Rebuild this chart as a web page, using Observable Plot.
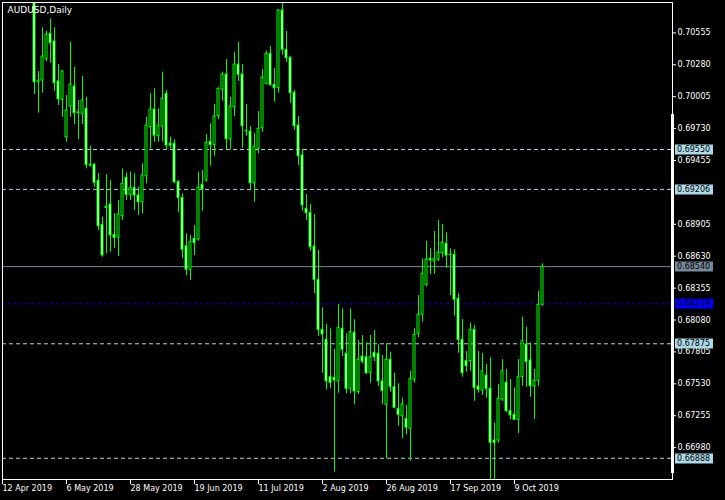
<!DOCTYPE html>
<html><head><meta charset="utf-8">
<script src="https://cdn.jsdelivr.net/npm/d3@7"></script>
<script src="https://cdn.jsdelivr.net/npm/@observablehq/plot@0.6"></script>
<style>html,body{margin:0;padding:0;background:#000;} #chart svg{display:block}</style>
</head><body><div id="chart"></div>
<script>
const symbol = "AUDUSD,Daily";
// bar index of the first candle (index 0 = 12 Apr 2019)
const firstBar = 8;
const opens = [0.71280,0.70130,0.70144,0.70328,0.70547,0.70481,0.70136,0.69978,0.69656,0.69920,
0.70093,0.69864,0.69857,0.69900,0.69418,0.69418,0.69280,0.68901,0.69045,0.69076,
0.68814,0.68789,0.68975,0.69306,0.69159,0.69219,0.69153,0.69095,0.69319,0.69742,
0.69894,0.69664,0.69748,0.70030,0.69599,0.69599,0.69268,0.69133,0.68716,0.68513,
0.68780,0.68774,0.69245,0.69282,0.69616,0.69587,0.69837,0.70067,0.70196,0.69638,
0.69914,0.70282,0.70196,0.69707,0.69705,0.69259,0.69556,0.69733,0.70116,0.70375,
0.70107,0.70078,0.70748,0.70409,0.70340,0.70038,0.69756,0.69498,0.69038,0.69004,
0.68713,0.68426,0.67995,0.67909,0.67587,0.67582,0.67550,0.68004,0.67789,0.67487,
0.67970,0.67458,0.67765,0.67759,0.67625,0.67797,0.67789,0.67550,0.67349,0.67737,
0.67501,0.67314,0.67251,0.67228,0.67142,0.67564,0.67961,0.68125,0.68383,0.68607,
0.68587,0.68601,0.68656,0.68737,0.68642,0.68642,0.68263,0.67909,0.67725,0.67725,
0.67995,0.67507,0.67472,0.67601,0.67487,0.67041,0.67041,0.67395,0.67539,0.67294,
0.67263,0.67220,0.67587,0.67869,0.67731,0.67509,0.67556,0.68211];
const highs = [0.71350,0.70222,0.70599,0.70567,0.70676,0.70599,0.70282,0.70231,0.70015,0.70472,
0.70259,0.69972,0.70179,0.70000,0.69578,0.69429,0.69343,0.68966,0.69334,0.69282,
0.68998,0.69110,0.69383,0.69345,0.69354,0.69340,0.69225,0.69426,0.69828,0.70030,
0.70073,0.69900,0.70216,0.70058,0.69656,0.69633,0.69282,0.69168,0.68823,0.68808,
0.68894,0.69354,0.69369,0.69679,0.69771,0.69938,0.70081,0.70216,0.70325,0.69998,
0.70388,0.70475,0.70282,0.69938,0.69748,0.69690,0.69877,0.70239,0.70397,0.70437,
0.70248,0.70756,0.70811,0.70567,0.70351,0.70058,0.69834,0.69550,0.69162,0.69076,
0.68989,0.68679,0.68185,0.68041,0.68004,0.67826,0.68214,0.68176,0.67961,0.68176,
0.68082,0.67903,0.67946,0.67883,0.67946,0.67989,0.67866,0.67774,0.67875,0.67802,
0.67621,0.67530,0.67406,0.67343,0.67639,0.68004,0.68291,0.68607,0.68757,0.68694,
0.68843,0.68938,0.68903,0.68832,0.68694,0.68685,0.68306,0.68084,0.67808,0.68056,
0.68032,0.67808,0.67789,0.67696,0.67754,0.67190,0.67524,0.67739,0.67653,0.67567,
0.67495,0.67739,0.68104,0.68018,0.67883,0.67653,0.68326,0.68564];
const lows = [0.70024,0.69863,0.70035,0.70308,0.70294,0.70052,0.69929,0.69828,0.69613,0.69828,
0.69765,0.69636,0.69765,0.69383,0.69397,0.69225,0.68851,0.68621,0.68651,0.68664,
0.68696,0.68627,0.68938,0.69110,0.69110,0.69024,0.68981,0.68995,0.69254,0.69556,
0.69613,0.69613,0.69613,0.69541,0.69556,0.69254,0.69004,0.68607,0.68463,0.68420,
0.68636,0.68759,0.69018,0.69268,0.69406,0.69492,0.69808,0.69966,0.69547,0.69547,
0.69834,0.70136,0.69561,0.69664,0.69202,0.69095,0.69513,0.69699,0.70107,0.70093,
0.69957,0.70035,0.70360,0.70302,0.69949,0.69713,0.69412,0.69018,0.68938,0.68673,
0.68306,0.67940,0.67621,0.67478,0.67487,0.66768,0.67449,0.67765,0.67444,0.67444,
0.67349,0.67438,0.67702,0.67610,0.67535,0.67722,0.67507,0.67352,0.66883,0.67458,
0.67314,0.67164,0.67056,0.67090,0.66863,0.67535,0.67926,0.68061,0.68363,0.68472,
0.68472,0.68584,0.68616,0.68526,0.68291,0.68113,0.67794,0.67587,0.67630,0.67639,
0.67380,0.67449,0.67429,0.67406,0.66680,0.66660,0.67018,0.67377,0.67280,0.67222,
0.67214,0.67099,0.67509,0.67501,0.67414,0.67222,0.67509,0.68199];
const closes = [0.70130,0.70144,0.70351,0.70538,0.70466,0.70121,0.69981,0.70222,0.69886,0.70110,
0.69863,0.69871,0.69972,0.69418,0.69412,0.69263,0.68888,0.68636,0.69054,0.68808,
0.68789,0.68989,0.69254,0.69159,0.69216,0.69153,0.69095,0.69325,0.69756,0.69894,
0.69670,0.69756,0.69987,0.69584,0.69584,0.69268,0.69133,0.68685,0.68513,0.68751,
0.68742,0.69219,0.69205,0.69607,0.69587,0.69834,0.70073,0.70196,0.69638,0.69920,
0.70282,0.70194,0.69750,0.69709,0.69259,0.69575,0.69728,0.70168,0.70375,0.70107,
0.70078,0.70748,0.70409,0.70337,0.70035,0.69750,0.69492,0.69067,0.69001,0.68707,
0.68426,0.67995,0.67955,0.67550,0.67539,0.67558,0.68013,0.67823,0.67487,0.67975,
0.67464,0.67737,0.67722,0.67621,0.67759,0.67759,0.67550,0.67466,0.67737,0.67501,
0.67323,0.67263,0.67352,0.67151,0.67573,0.67952,0.68125,0.68478,0.68599,0.68593,
0.68607,0.68659,0.68745,0.68636,0.68639,0.68254,0.67909,0.67621,0.67682,0.67995,
0.67495,0.67478,0.67636,0.67487,0.67021,0.67021,0.67401,0.67639,0.67294,0.67257,
0.67220,0.67587,0.67897,0.67716,0.67509,0.67556,0.68211,0.68540];

const dateTicks = [0, 16, 32, 48, 64, 80, 96, 112, 128];
const dateLabels = ["12 Apr 2019","6 May 2019","28 May 2019","19 Jun 2019","11 Jul 2019","2 Aug 2019","26 Aug 2019","17 Sep 2019","9 Oct 2019"];
const priceTicks = [0.70555,0.70280,0.70005,0.69730,0.69455,0.68905,0.68630,0.68355,0.68080,0.67805,0.67530,0.67255,0.66980];
const levels = [0.69550, 0.69206, 0.67875, 0.66888];
const alertLevel = 0.68219;
const bidPrice = 0.68540;
const axisBar = [0.69851, 0.66757];

const bars = opens.map((o, k) => ({i: firstBar + k, open: o, high: highs[k], low: lows[k], close: closes[k]}));
const labelMap = new Map(dateTicks.map((t, k) => [t, dateLabels[k]]));

const chart = Plot.plot({
  width: 725, height: 500,
  marginLeft: 2, marginTop: 2, marginRight: 53, marginBottom: 21,
  style: {background: "#000", color: "#fff", fontFamily: "DejaVu Sans", fontSize: "8px"},
  x: {domain: [0, 167.5], axis: null},
  y: {domain: [0.66705, 0.70817], axis: null},
  marks: [
    Plot.ruleY(levels, {y: d => d, stroke: "#b4d4e4", strokeDasharray: "4,3"}),
    Plot.ruleY([alertLevel], {y: d => d, stroke: "#0000ff", strokeDasharray: "3,3"}),
    Plot.ruleY([bidPrice], {y: d => d, stroke: "#778899"}),
    Plot.ruleX(bars, {x: "i", y1: "low", y2: "high", stroke: "#00ff00", clip: true}),
    Plot.rect(bars, {x1: d => d.i - 0.25, x2: d => d.i + 0.25, y1: "open", y2: "close",
      fill: d => d.close >= d.open ? "#000" : "#fff", stroke: "#00ff00", clip: true}),
    Plot.frame({stroke: "#fff"}),
    Plot.axisY(priceTicks, {anchor: "right", label: null, tickSize: 3, tickPadding: 2, tickFormat: d3.format(".5f"), stroke: "#fff", fill: "#fff"}),
    Plot.axisX(dateTicks, {anchor: "bottom", label: null, tickSize: 5, tickPadding: 1, tickFormat: d => labelMap.get(d), textAnchor: "start", stroke: "#fff", fill: "#fff"}),
    Plot.text([symbol], {frameAnchor: "top-left", dx: 5, dy: 8, lineAnchor: "middle", textAnchor: "start", fill: "#fff", fontSize: 9})
  ]
});
document.getElementById("chart").append(chart);

const svg = d3.select(chart);
const ys = chart.scale("y");
const gx = 672;
svg.append("rect").attr("x", gx - 1).attr("width", 3)
  .attr("y", ys.apply(axisBar[0])).attr("height", ys.apply(axisBar[1]) - ys.apply(axisBar[0]))
  .attr("fill", "#fff");
const tags = levels.map(v => ({v, bg: "#add8e6"}))
  .concat([{v: bidPrice, bg: "#778899"}, {v: alertLevel, bg: "#0000ff"}]);
const g = svg.append("g").attr("font-family", "DejaVu Sans").attr("font-size", 8).attr("text-anchor", "start");
tags.forEach(t => {
  const y = Math.round(ys.apply(t.v));
  g.append("rect").attr("x", gx + 3).attr("y", y - 4.5).attr("width", 38).attr("height", 10).attr("fill", t.bg);
  g.append("text").attr("x", gx + 5).attr("y", y + 0.5).attr("dy", "0.35em").attr("text-anchor", "start").attr("fill", "#000").text(d3.format(".5f")(t.v));
});
</script>
</body></html>
